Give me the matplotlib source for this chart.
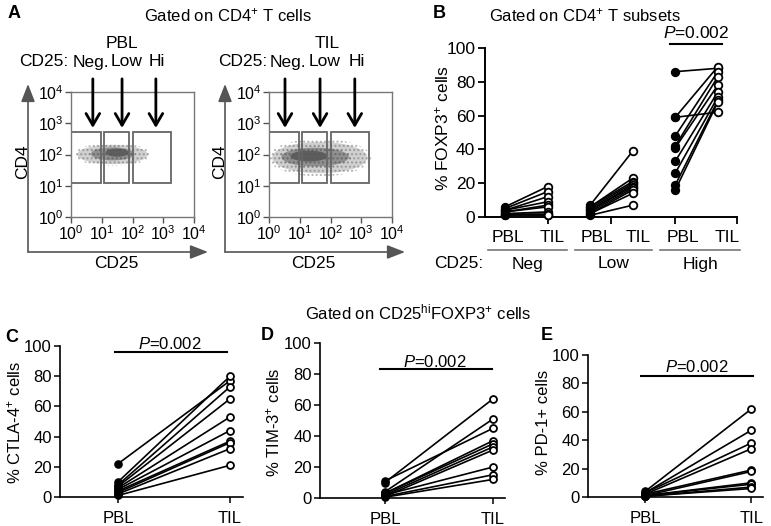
import matplotlib
matplotlib.use("Agg")
import matplotlib.pyplot as plt
from matplotlib.patches import Rectangle, Ellipse, FancyArrowPatch

plt.rcParams['font.family'] = ['Liberation Sans', 'DejaVu Sans']
plt.rcParams['mathtext.fontset'] = 'custom'
plt.rcParams['mathtext.rm'] = 'Liberation Sans'
plt.rcParams['mathtext.it'] = 'Liberation Sans:italic'

# ---- data ----
gate_x = [(0.0, 0.97), (1.06, 1.9), (2.0, 3.26)]   # log10 CD25
gate_y = (1.09, 2.72)                              # log10 CD4
pbl_arrows = [0.71, 1.66, 2.76]
til_arrows = [0.52, 1.66, 2.79]
gate_names = ['Neg.', 'Low', 'Hi']
# cloud extents (log10): center x, center y, width, height
pbl_cloud = [(1.35, 2.0, 2.3, 0.62), (1.35, 2.02, 1.4, 0.42), (1.5, 2.06, 0.75, 0.26)]
til_cloud = [(1.65, 1.9, 3.1, 1.0), (1.5, 1.92, 2.2, 0.6), (1.3, 1.95, 1.2, 0.35)]

groups = ['Neg', 'Low', 'High']
neg_pbl = [6, 5, 4, 4, 3, 3, 2, 2, 1, 1]
neg_til = [18, 15, 12, 9, 7, 6, 3, 2, 1, 1]
low_pbl = [7, 6, 6, 5, 4, 4, 3, 2, 2, 1]
low_til = [39, 23, 21, 20, 19, 18, 17, 16, 14, 7]
high_pbl = [86, 59, 59, 48, 42, 41, 33, 26, 19, 16]
high_til = [88, 62, 89, 86, 83, 78, 74, 71, 69, 68]

ctla4_pbl = [22, 10, 8, 7, 6, 5, 4, 3, 2, 1]
ctla4_til = [77, 80, 73, 65, 53, 44, 37, 36, 32, 21]
tim3_pbl = [11, 10, 4, 3, 3, 2, 2, 1, 1, 0.5]
tim3_til = [45, 64, 51, 37, 35, 33, 20, 31, 15, 12]
pd1_pbl = [4, 3, 3, 2, 2, 1, 1, 1, 0.5, 0.5]
pd1_til = [62, 47, 38, 34, 19, 18, 10, 9, 7, 6]

W, H = 771, 526
fig = plt.figure(figsize=(W / 100, H / 100), dpi=100)


def add_ax(l, t, r, b):
    return fig.add_axes([l / W, 1 - b / H, (r - l) / W, (b - t) / H])


def ftext(x, y, s, **kw):
    kw.setdefault('ha', 'center')
    kw.setdefault('va', 'center')
    fig.text(x / W, 1 - y / H, s, **kw)


def fpos(x, y):
    return (x / W, 1 - y / H)


def fig_arrow(x0, y0, x1, y1):
    fig.add_artist(FancyArrowPatch(
        fpos(x0, y0), fpos(x1, y1), transform=fig.transFigure,
        arrowstyle='-|>,head_length=0.9,head_width=0.35', mutation_scale=12,
        color='#555555', lw=1.2, shrinkA=0, shrinkB=0))


def draw_pairs(ax, xa, xb, a, b, ms=5.5):
    for va, vb in zip(a, b):
        ax.plot([xa, xb], [va, vb], color='black', lw=1.2, clip_on=False, zorder=2)
    ax.plot([xa] * len(a), a, 'o', color='black', ms=ms, mew=1.2, clip_on=False, zorder=3)
    ax.plot([xb] * len(b), b, 'o', mfc='white', mec='black', ms=ms, mew=1.3,
            clip_on=False, zorder=4)


# ---- panel A ----
ftext(14, 13, 'A', fontsize=13, fontweight='bold')
ftext(228, 15, 'Gated on CD4$^{+}$ T cells', fontsize=12)

panels_a = [
    (71, 194, pbl_arrows, pbl_cloud, 'PBL', 122, 68, [91, 127, 157], 28),
    (269, 392, til_arrows, til_cloud, 'TIL', 327, 267, [288, 325, 357], 225),
]
for (l, r, arrows, cloud, name, name_x, lab_x, name_pos, axis_x) in panels_a:
    ax = add_ax(l, 92, r, 217)
    ax.set_xlim(0, 4)
    ax.set_ylim(0, 4)
    for s in ax.spines.values():
        s.set_color('#777777')
        s.set_linewidth(1.0)
    ax.set_xticks(range(5))
    ax.set_yticks(range(5))
    ax.set_xticklabels(['$10^{%d}$' % i for i in range(5)], fontsize=11.5)
    ax.set_yticklabels(['$10^{%d}$' % i for i in range(5)], fontsize=11.5)
    ax.tick_params(length=4, width=1, color='#555555', pad=1.5)
    alphas = [0.25, 0.45, 0.65]
    for (cx, cy, w, h), al in zip(cloud, alphas):
        ax.add_patch(Ellipse((cx, cy), w, h, facecolor='#444444', alpha=al, lw=0))
        ax.add_patch(Ellipse((cx, cy), w * 1.08, h * 1.2, facecolor='none',
                             edgecolor='#666666', hatch='....', lw=0, alpha=0.45))
    for x0, x1 in gate_x:
        ax.add_patch(Rectangle((x0, gate_y[0]), x1 - x0, gate_y[1] - gate_y[0],
                               fill=False, ec='#666666', lw=1.3))
    for xa in arrows:
        ax.annotate('', xy=(xa, 2.85), xytext=(xa, 4.42), annotation_clip=False,
                    arrowprops=dict(arrowstyle='->,head_length=0.6,head_width=0.35',
                                    lw=2, color='black', mutation_scale=14,
                                    shrinkA=0, shrinkB=0))
    for px, g in zip(name_pos, gate_names):
        ftext(px, 62, g, fontsize=12.5)
    ftext(name_x, 43, name, fontsize=12.5)
    ftext(lab_x, 62, 'CD25:', fontsize=12.5, ha='right')
    # outer CD4 / CD25 arrows
    fig_arrow(axis_x, 252, axis_x, 84)
    fig_arrow(axis_x, 252, axis_x + 180, 252)
    ftext(axis_x - 5, 162, 'CD4', fontsize=12.5, rotation=90)
    ftext(axis_x + 88, 264, 'CD25', fontsize=12.5)

# ---- panel B ----
ftext(439, 13, 'B', fontsize=13, fontweight='bold')
ftext(585, 15, 'Gated on CD4$^{+}$ T subsets', fontsize=12)
axb = add_ax(485, 48, 737, 217)
axb.set_xlim(-0.47, 5.45)
axb.set_ylim(0, 100)
for s in ['top', 'right']:
    axb.spines[s].set_visible(False)
for s in ['left', 'bottom']:
    axb.spines[s].set_linewidth(1.4)
axb.set_yticks(range(0, 101, 20))
axb.set_xticks([1, 2.5, 4, 5.45])
axb.set_xticklabels([])
axb.tick_params(labelsize=12.5, length=5, width=1.3, pad=2)
for i, (a, b) in enumerate([(neg_pbl, neg_til), (low_pbl, low_til), (high_pbl, high_til)]):
    draw_pairs(axb, 2 * i, 2 * i + 1, a, b, ms=5.5)
axb.plot([3.87, 5.09], [102.4, 102.4], color='black', lw=1.5, clip_on=False)
axb.text(4.48, 104, '$P$=0.002', ha='center', va='bottom', fontsize=12.5)
ftext(442, 128, '% FOXP3$^{+}$ cells', fontsize=12.5, rotation=90)
for i, px in enumerate([508, 552, 597, 638, 683, 727]):
    ftext(px, 237, ['PBL', 'TIL'][i % 2], fontsize=12.5)
for (x0, x1), g in zip([(488, 567), (575, 652), (660, 740)], groups):
    fig.add_artist(plt.Line2D([x0 / W, x1 / W], [1 - 250 / H] * 2, color='#777777', lw=1.2))
    ftext((x0 + x1) / 2, 264, g, fontsize=12.5)
ftext(459, 264, 'CD25:', fontsize=12.5)

# ---- panels C, D, E ----
ftext(418, 312, 'Gated on CD25$^{\\mathrm{hi}}$FOXP3$^{+}$ cells', fontsize=12)

bottom_panels = [
    ('C', 12, 337, (60, 346, 243, 497), (-0.518, 1.116), ctla4_pbl, ctla4_til,
     '% CTLA-4$^{+}$ cells', 14, 96, 101, 0.46, (-0.027, 0.973)),
    ('D', 267, 335, (320, 343, 505, 498), (-0.6, 1.11), tim3_pbl, tim3_til,
     '% TIM-3$^{+}$ cells', 273, 83, 87.5, 0.46, (-0.046, 0.99)),
    ('E', 547, 335, (588, 355, 763, 497), (-0.54, 1.11), pd1_pbl, pd1_til,
     '% PD-1+ cells', 543, 85, 91.5, 0.49, (-0.04, 1.02)),
]
for (lab, lx, ly, box, xl, a, b, ylab, ylab_x, bar_y, txt_y, txt_x, bar_x) in bottom_panels:
    ftext(lx, ly, lab, fontsize=13, fontweight='bold')
    ax = add_ax(*box)
    ax.set_xlim(*xl)
    ax.set_ylim(0, 100)
    for s in ['top', 'right']:
        ax.spines[s].set_visible(False)
    for s in ['left', 'bottom']:
        ax.spines[s].set_linewidth(1.2)
    ax.set_yticks(range(0, 101, 20))
    ax.set_xticks([0, 1])
    ax.set_xticklabels(['PBL', 'TIL'])
    ax.tick_params(labelsize=12, length=4, width=1.1, pad=2)
    ax.tick_params(axis='x', pad=6)
    draw_pairs(ax, 0, 1, a, b, ms=5)
    ax.plot(bar_x, [bar_y, bar_y], color='black', lw=1.5, clip_on=False)
    ax.text(txt_x, txt_y, '$P$=0.002', ha='center', va='center', fontsize=12)
    ftext(ylab_x, 422, ylab, fontsize=12, rotation=90)

fig.savefig('out.png', dpi=100)
